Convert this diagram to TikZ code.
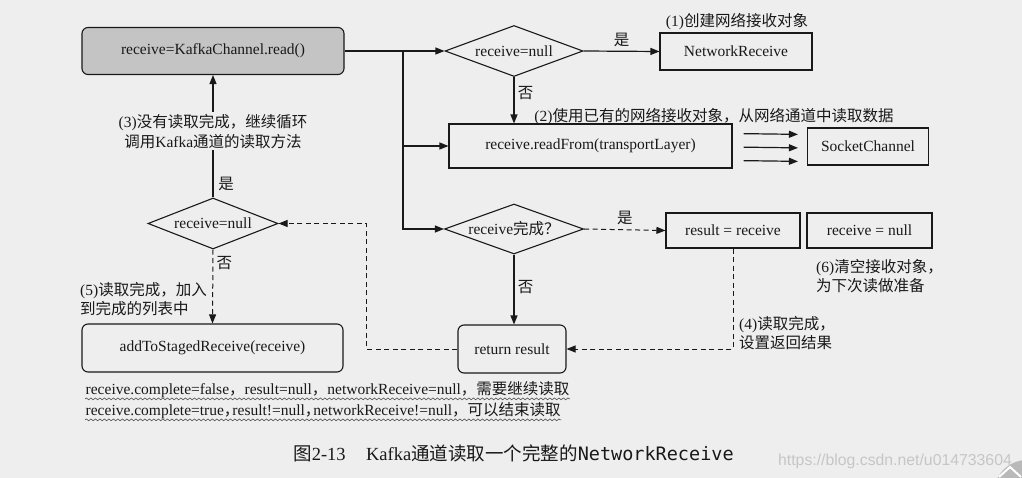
\documentclass[tikz,border=0pt]{standalone}
\usepackage{fontspec}
\setmainfont{Liberation Serif}
\newfontfamily\zhfont{Noto Sans CJK SC}
\newfontfamily\capmono{DejaVu Sans Mono}
\newfontfamily\wmfont{Liberation Sans}
\newcommand\zhs[1]{{\zhfont #1}}
\usetikzlibrary{arrows.meta,shapes.geometric,decorations.pathmorphing,calc}
\definecolor{pagebg}{gray}{0.935}
\definecolor{boxgray}{gray}{0.77}
\definecolor{ink}{gray}{0.1}
\tikzset{
  every node/.style={font=\fontsize{15.5}{19.5}\selectfont, text=ink},
  conn/.style={draw=ink, line width=1.2pt, -{Triangle[length=9pt,width=7pt]}},
  dconn/.style={conn, line width=1pt, dash pattern=on 5pt off 3.5pt},
  sbox/.style={draw=ink, line width=1.1pt, inner sep=2pt},
  rbox/.style={sbox, rounded corners=6pt},
  dia/.style={draw=ink, line width=1.1pt, shape=diamond, inner sep=0pt},
  wavy/.style={draw=ink!80, line width=0.6pt, decorate, decoration={snake, amplitude=0.9pt, segment length=4.5pt}},
}
\begin{document}
\begin{tikzpicture}[x=1pt,y=-1pt]
\useasboundingbox[fill=pagebg] (0,0) rectangle (1022,478);

% nodes
\node[rbox, fill=boxgray, minimum width=262pt, minimum height=47pt] (read) at (213,51) {receive=KafkaChannel.read()};
\node[dia, minimum width=138pt, minimum height=51pt] (d1) at (514,51) {\makebox[0pt]{receive=null}};
\node[sbox, minimum width=152pt, minimum height=37pt] (nr) at (736,51.5) {NetworkReceive};
\node[sbox, minimum width=283pt, minimum height=44pt] (rf) at (590.5,146) {receive.readFrom(transportLayer)};
\node[sbox, minimum width=121pt, minimum height=37pt] (sc) at (868,146.5) {SocketChannel};
\node[dia, minimum width=130pt, minimum height=51pt] (d2) at (213,223.5) {\makebox[0pt]{receive=null}};
\node[dia, minimum width=139pt, minimum height=50pt] (d3) at (514,229) {\makebox[0pt]{receive\zhs{完成？}}};
\node[sbox, minimum width=134pt, minimum height=35pt] (res) at (733,230.5) {result = receive};
\node[sbox, minimum width=125pt, minimum height=35pt] (rn) at (869.5,230.5) {receive = null};
\node[rbox, minimum width=108pt, minimum height=48pt] (ret) at (512,349) {return result};
\node[rbox, minimum width=261pt, minimum height=48pt] (add) at (212.5,348) {addToStagedReceive(receive)};

% connectors
\coordinate (j) at (403,51);
\draw[conn] (read.east) -- (d1.west);
\draw[conn] (j) |- (rf.west);
\draw[conn] (j) |- (d3.west);
\draw[conn] (d1.east) -- node[above=1pt] (y1) {\zhs{是}} (nr.west);
\draw[conn] (d1.south) -- node[right, pos=0.35] (n1) {\zhs{否}} (d1.south |- rf.north);
\draw[conn, shorten <=11pt, shorten >=9pt] ([yshift=12.5pt]rf.east) -- ([yshift=12pt]sc.west);
\draw[conn, shorten <=11pt, shorten >=9pt] ([yshift=-1pt]rf.east) -- ([yshift=-1.5pt]sc.west);
\draw[conn, shorten <=11pt, shorten >=9pt] ([yshift=-14.5pt]rf.east) -- ([yshift=-15pt]sc.west);
\draw[conn] (d2.north) -- node[pos=0.54, fill=pagebg, align=center, inner sep=2pt] (l3) {(3)\zhs{没有读取完成，继续循环}\\\zhs{调用}Kafka\zhs{通道的读取方法}} (read.south);
\node (y2) at (226,184) {\zhs{是}};
\draw[dconn] (d2.south) -- node[right, pos=0.18] (n2) {\zhs{否}} (add.north);
\draw[dconn] (d3.east) -- node[above=1pt] (y3) {\zhs{是}} (res.west);
\draw[conn] (d3.south) -- node[right, pos=0.46] (n3) {\zhs{否}} (d3.south |- ret.north);
\draw[dconn] (res.south) |- (ret.east);
\draw[dconn] (ret.west) -| ($(d2.east)+(88,0)$) -- (d2.east);

% labels
\node (l1) at (737,22) {(1)\zhs{创建网络接收对象}};
\node (l2) at (714,117) {(2)\zhs{使用已有的网络接收对象，从网络通道中读取数据}};
\node[anchor=west, align=left, inner sep=0pt] (l4) at (739,333) {(4)\zhs{读取完成，}\\\zhs{设置返回结果}};
\node[anchor=west, align=left, inner sep=0pt] (l5) at (80,299) {(5)\zhs{读取完成，加入}\\\zhs{到完成的列表中}};
\node[anchor=west, align=left, inner sep=0pt] (l6) at (816,276) {(6)\zhs{清空接收对象，}\\\zhs{为下次读做准备}};

% notes
\node[anchor=west, inner sep=0.5pt] (t1) at (85,390) {receive.complete=false\zhs{，}result=null\zhs{，}networkReceive=null\zhs{，需要继续读取}};
\node[anchor=west, inner sep=0.5pt] (t2) at (85,411) {receive.complete=true\makebox[0.55em][l]{\zhs{，}}result!=null\makebox[0.55em][l]{\zhs{，}}networkReceive!=null\zhs{，可以结束读取}};
\draw[wavy] (t1.south west) -- (t1.south east);
\draw[wavy] (t2.south west) -- (t2.south east);

% caption
\node[font=\fontsize{18.5}{21}\selectfont] (cap) at (513.5,453) {\zhs{图}2-13\hspace{1.1em}Kafka\zhs{通道读取一个完整的}{\capmono NetworkReceive}};

% watermark
\node[font=\wmfont\fontsize{15.8}{18}\selectfont, text=gray!45, inner sep=0pt] (wm) at (895,461) {https://blog.csdn.net/u014733604};
\fill[gray!55] (1027,493) circle (33);
\draw[white, line width=2pt] (999,477) -- (1010,467) -- (1021,477);
\end{tikzpicture}
\end{document}
